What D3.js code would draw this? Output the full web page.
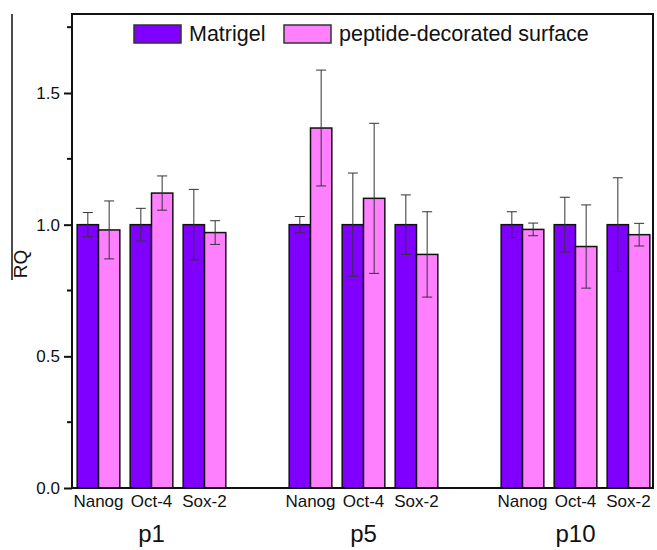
<!doctype html>
<html>
<head>
<meta charset="utf-8">
<script src="https://d3js.org/d3.v7.min.js"></script>
<style>
  body { margin: 0; background: #fff; }
  text { font-family: "Liberation Sans", Arial, sans-serif; fill: #111; }
</style>
</head>
<body>
<svg width="657" height="550"></svg>
<script>
    // data
    var passages = ["p1", "p5", "p10"];
    var genes = ["Nanog", "Oct-4", "Sox-2"];
    var seriesNames = ["Matrigel", "peptide-decorated surface"];
    var colors = ["#8000ff", "#ff80ff"];

    // values per passage, in gene order
    var matrigel     = [[1.0, 1.0, 1.0], [1.0, 1.0, 1.0], [1.0, 1.0, 1.0]];
    var matrigelErr  = [[0.046, 0.062, 0.134], [0.031, 0.196, 0.113], [0.049, 0.104, 0.178]];
    var peptide      = [[0.98, 1.12, 0.97], [1.367, 1.10, 0.887], [0.982, 0.917, 0.962]];
    var peptideErr   = [[0.11, 0.065, 0.045], [0.22, 0.285, 0.162], [0.024, 0.158, 0.043]];
    var yTicks = [0, 0.5, 1.0, 1.5];
    var yMinor = [0.25, 0.75, 1.25, 1.75];

    var svg = d3.select("svg"),
        plotLeft = 72, plotRight = 653, plotTop = 14, plotBottom = 488;

    // slots: 3 genes per passage with one empty slot between passages
    var slots = [];
    passages.forEach(function(p, i) {
        genes.forEach(function(g) { slots.push(p + "|" + g); });
        if (i < passages.length - 1) slots.push("gap" + i);
    });

    var x = d3.scaleBand().domain(slots).range([plotLeft, 655])
        .paddingInner(0.195).paddingOuter(0.0975);
    var xs = d3.scaleBand().domain(seriesNames).range([0, x.bandwidth()]);
    var y = d3.scaleLinear().domain([0, 1.8]).range([plotBottom, plotTop]);

    var rows = [];
    passages.forEach(function(p, i) {
        genes.forEach(function(g, j) {
            rows.push({slot: p + "|" + g, s: 0, v: matrigel[i][j], e: matrigelErr[i][j]});
            rows.push({slot: p + "|" + g, s: 1, v: peptide[i][j], e: peptideErr[i][j]});
        });
    });

    // bars
    svg.append("g").selectAll("rect")
        .data(rows).enter().append("rect")
        .attr("x", function(d) { return x(d.slot) + xs(seriesNames[d.s]); })
        .attr("y", function(d) { return y(d.v); })
        .attr("width", xs.bandwidth())
        .attr("height", function(d) { return y(0) - y(d.v); })
        .attr("fill", function(d) { return colors[d.s]; })
        .attr("stroke", "#111")
        .attr("stroke-width", 1.5);

    // error bars
    var eb = svg.append("g").attr("stroke", "#333").attr("stroke-width", 1);
    rows.forEach(function(d) {
        var cx = x(d.slot) + xs(seriesNames[d.s]) + xs.bandwidth() / 2;
        eb.append("line").attr("x1", cx).attr("x2", cx)
            .attr("y1", y(d.v + d.e)).attr("y2", y(d.v - d.e));
        [d.v + d.e, d.v - d.e].forEach(function(v) {
            eb.append("line").attr("x1", cx - 5).attr("x2", cx + 5)
                .attr("y1", y(v)).attr("y2", y(v));
        });
    });

    // frame
    svg.append("rect")
        .attr("x", plotLeft).attr("y", plotTop)
        .attr("width", plotRight - plotLeft).attr("height", plotBottom - plotTop)
        .attr("fill", "none").attr("stroke", "#111").attr("stroke-width", 2);

    // y axis
    var yAxis = svg.append("g").attr("transform", "translate(" + plotLeft + ",0)")
        .call(d3.axisLeft(y).tickValues(yTicks).tickSize(8).tickPadding(4)
            .tickFormat(d3.format(".1f")));
    yAxis.select(".domain").remove();
    yAxis.selectAll("line").attr("stroke", "#111").attr("stroke-width", 2);
    yAxis.selectAll("text").style("font-size", "17px")
        .style("font-family", "Liberation Sans, Arial, sans-serif").attr("fill", "#111");

    svg.append("g").selectAll("line")
        .data(yMinor).enter().append("line")
        .attr("x1", plotLeft - 5).attr("x2", plotLeft)
        .attr("y1", function(d) { return y(d); }).attr("y2", function(d) { return y(d); })
        .attr("stroke", "#111").attr("stroke-width", 2);

    // gene labels
    svg.append("g").selectAll("text")
        .data(slots.filter(function(s) { return s.indexOf("|") > 0; }))
        .enter().append("text")
        .attr("x", function(d) { return x(d) + x.bandwidth() / 2; })
        .attr("y", 507)
        .attr("text-anchor", "middle")
        .style("font-size", "17px")
        .text(function(d) { return d.split("|")[1]; });

    // passage labels, centered under the middle gene
    svg.append("g").selectAll("text")
        .data(passages).enter().append("text")
        .attr("x", function(d) { return x(d + "|" + genes[1]) + x.bandwidth() / 2; })
        .attr("y", 542)
        .attr("text-anchor", "middle")
        .style("font-size", "24px")
        .text(function(d) { return d; });

    // y label
    svg.append("text")
        .attr("transform", "translate(27,264) rotate(-90)")
        .attr("text-anchor", "middle")
        .style("font-size", "19px")
        .text("RQ");
    svg.append("line")
        .attr("x1", 12).attr("x2", 12).attr("y1", 14).attr("y2", 280)
        .attr("stroke", "#111").attr("stroke-width", 1.5);

    // legend
    var legendX = [134, 284];
    var lg = svg.append("g");
    seriesNames.forEach(function(name, i) {
        lg.append("rect").attr("x", legendX[i]).attr("y", 25)
            .attr("width", 47).attr("height", 18)
            .attr("fill", colors[i]).attr("stroke", "#333").attr("stroke-width", 1.5);
        lg.append("text").attr("x", legendX[i] + 55).attr("y", 41)
            .style("font-size", "21.5px").text(name);
    });
</script>
</body>
</html>
